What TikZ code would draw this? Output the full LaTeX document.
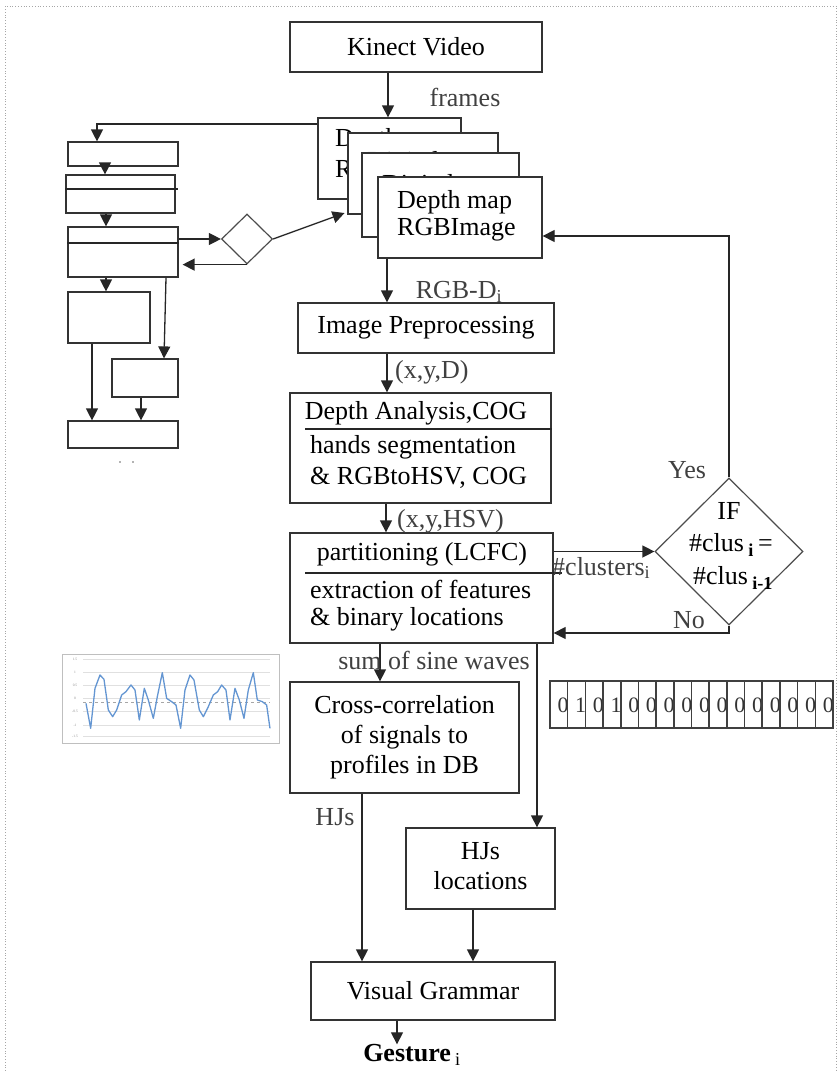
\documentclass[tikz,border=0pt]{standalone}
\usepackage{fontspec}
\setmainfont{Liberation Serif}
\usetikzlibrary{arrows.meta,shapes.geometric}

\begin{document}
\begin{tikzpicture}[x=1pt,y=-1pt,
  every node/.style={font=\fontsize{26}{29}\selectfont, inner sep=0pt},
  box/.style={draw=black!80, line width=1.3pt, fill=white, inner sep=0pt},
  arr/.style={draw=black!85, line width=1.3pt, -{Triangle[length=12pt,width=12pt]}},
  plain/.style={draw=black!85, line width=1.3pt},
  lbl/.style={text=black!75},
]
\useasboundingbox (0,0) rectangle (839,1071);
% dotted page frame
\draw[black!35, dotted, line width=0.8pt] (5,1071) -- (5,6) -- (836,6) -- (836,1071);

% ---------- main pipeline ----------
\node[box, minimum width=252pt, minimum height=50pt] (kinect) at (416,47) {Kinect Video};

% stacked frames
\node[box, minimum width=143pt, minimum height=81pt] (s1) at (389.5,158.5) {};
\node[anchor=west] (s1t) at (335,156) {\begin{tabular}{@{}l@{}}Depth map\\[2pt]RGB Image\end{tabular}};
\node[box, minimum width=150pt, minimum height=81pt] (s2) at (423,173.5) {};
\node[anchor=west] (s2t) at (367,163) {Digital};
\node[box, minimum width=157pt, minimum height=84pt] (s3) at (440.5,195) {};
\node[anchor=west] (s3t) at (382,186) {Digital};
\node[box, minimum width=164pt, minimum height=81pt] (s4) at (460,217.5) {};
\node[anchor=west] (s4t) at (397,216) {\begin{tabular}{@{}l@{}}Depth map\\[-2pt]RGBImage\end{tabular}};

\node[box, minimum width=256pt, minimum height=50pt] (ip) at (426,328) {Image Preprocessing};

\node[box, minimum width=261pt, minimum height=110pt] (da) at (420.5,448) {};
\draw[plain] (305,429) -- (da.east |- 0,429);
\node (da1) at (416,413) {Depth Analysis,COG};
\node[anchor=west] (da2) at (310,447) {hands segmentation};
\node[anchor=west] (da3) at (310,478) {\& RGBtoHSV, COG};

\node[box, minimum width=263pt, minimum height=110pt] (pl) at (421.5,588) {};
\draw[plain] (305,573) -- (562,573);
\node (pl1) at (422,554) {partitioning (LCFC)};
\node[anchor=west] (pl2) at (310,589) {extraction of features};
\node[anchor=west] (pl3) at (310,619) {\& binary locations};

\node[box, minimum width=229pt, minimum height=111pt] (cc) at (404.5,737.5)
  {\begin{tabular}{@{}c@{}}Cross-correlation\\[1pt]of signals to\\[1pt]profiles in DB\end{tabular}};
\node[box, minimum width=149pt, minimum height=81pt] (hjl) at (480.5,868.5)
  {\begin{tabular}{@{}c@{}}HJs\\[1pt]locations\end{tabular}};
\node[box, minimum width=244pt, minimum height=58pt] (vg) at (433,991) {Visual Grammar};
\node[font=\bfseries\fontsize{26}{29}\selectfont] (gest) at (412,1055) {Gesture\,{\mdseries\textsubscript{i}}};

% decision
\node[draw=black!70, line width=1.2pt, diamond, minimum width=148pt, minimum height=147pt] (bd) at (729,551.5) {};
\node (bd1) at (729,511) {IF};
\node (bd2) at (731,545) {\#clus\,\textsubscript{\textbf{i}}\,=};
\node (bd3) at (733,578) {\#clus\,\textsubscript{\textbf{i-1}}};

% ---------- left sub-diagram ----------
\node[box, line width=1.2pt, minimum width=110pt, minimum height=24pt] (L1) at (123,154) {};
\node[box, line width=1.2pt, minimum width=109pt, minimum height=38pt] (L2) at (120.5,194) {};
\draw[plain, line width=1.2pt] (L2.west |- 0,189) -- (178,189);
\node[box, line width=1.2pt, minimum width=110pt, minimum height=50pt] (L3) at (123,252) {};
\draw[plain, line width=1.2pt] (L3.west |- 0,243) -- (L3.east |- 0,243);
\node[box, line width=1.2pt, minimum width=82pt, minimum height=51pt] (L4) at (109,317.5) {};
\node[box, line width=1.2pt, minimum width=66pt, minimum height=38pt] (L5) at (145,378) {};
\node[box, line width=1.2pt, minimum width=110pt, minimum height=27pt] (L6) at (123,434.5) {};
\node[draw=black!70, line width=1.2pt, diamond, minimum width=51pt, minimum height=50pt] (sd) at (247,239) {};
\fill[black!60] (120,462) circle (0.9pt) (133,462) circle (0.9pt);

% ---------- connectors ----------
\draw[arr] (388,0 |- kinect.south) -- (388,0 |- s1.north);
\draw[arr] (s1.west |- 0,124) -- (97,124) -- (97,0 |- L1.north);
\draw[arr] (105,0 |- L1.south) -- (105,0 |- L2.north);
\draw[arr] (106,0 |- L2.south) -- (106,0 |- L3.north);
\draw[arr] (L3.east |- sd.west) -- (sd.west);
\draw[arr, shorten >=4pt] (sd.south) -- (L3.east |- sd.south);
\draw[arr, shorten >=3pt] (sd.east) -- (s2.west |- 0,212);
\draw[arr] (106,0 |- L3.south) -- (106,0 |- L4.north);
\draw[arr] (166,0 |- L3.south) -- (164,0 |- L5.north);
\draw[arr] (92,0 |- L4.south) -- (92,0 |- L6.north);
\draw[arr] (141,0 |- L5.south) -- (141,0 |- L6.north);

\draw[arr] (387,0 |- s4.south) -- (387,0 |- ip.north);
\draw[arr] (387,0 |- ip.south) -- (387,0 |- da.north);
\draw[arr] (386,0 |- da.south) -- (386,0 |- pl.north);
\draw[arr] (pl.east |- bd.west) -- (bd.west);
\draw[arr] (bd.north) -- (bd.north |- 0,236) -- (s4.east |- 0,236);
\draw[arr] (bd.south) -- (bd.south |- 0,633) -- (pl.east |- 0,633);
\draw[arr] (380,0 |- pl.south) -- (380,0 |- cc.north);
\draw[arr] (537,0 |- pl.south) -- (537,0 |- hjl.north);
\draw[arr] (362,0 |- cc.south) -- (362,0 |- vg.north);
\draw[arr] (473,0 |- hjl.south) -- (473,0 |- vg.north);
\draw[arr] (397,0 |- vg.south) -- (397,0 |- gest.north);

% ---------- labels ----------
\node[lbl] (lfr) at (465,97) {frames};
\node[lbl] (lrgbd) at (459,292) {RGB-D\textsubscript{i}};
\node[lbl, anchor=west] (lxyd) at (395,372) {(x,y,D)};
\node[lbl, anchor=west] (lxyh) at (397,521) {(x,y,HSV)};
\node[lbl, anchor=west] (lclu) at (552,568) {\#clusters\textsubscript{i}};
\node[lbl] (lyes) at (687,470) {Yes};
\node[lbl] (lno) at (689,620) {No};
\node[lbl] (lsum) at (434,660) {sum of sine waves};
\node[lbl] (lhj) at (335,817) {HJs};

% ---------- binary strip ----------
\foreach \b [count=\k from 0] in {0,1,0,1,0,0,0,0,0,0,0,0,0,0,0,0}
  \node[font=\fontsize{22}{22}\selectfont, text=black!80] (bit\k) at ({550+\k*17.69+13},705) {\b};
\draw[black!75, line width=1.6pt] (550,681) rectangle (833,728);
\foreach \k in {1,...,15}
  \draw[black!75, line width=1.6pt] ({550+\k*17.69},681) -- ({550+\k*17.69},728);

% ---------- signal chart ----------
\begin{scope}[shift={(50,640)}, scale=0.3333]
  \draw[black!25, line width=1pt, fill=white] (38,42) rectangle (688,312);
  \foreach \yy in {58,98,135,175,215,255,290}
    \draw[black!12, line width=0.8pt] (100,\yy) -- (660,\yy);
  \draw[black!35, dashed, line width=1pt] (100,188) -- (660,188);
  \foreach \yy/\t in {58/1.5,98/1,135/0.5,175/0,215/-0.5,255/-1,290/-1.5}
    \node[font=\fontsize{3.5}{4}\selectfont, text=black!45] (yl\yy) at (75,\yy) {\t};
  \draw[color={rgb,255:red,100;green,150;blue,210}, line width=1.3pt, line join=round]
    (108,190) -- (122,265) -- (135,145) -- (150,105) -- (162,118) -- (175,210) -- (188,230)
    -- (200,210) -- (215,165) -- (228,155) -- (243,135) -- (255,150) -- (268,240) -- (283,145)
    -- (295,180) -- (310,235) -- (322,170) -- (337,98) -- (350,175) -- (365,185) -- (378,195)
    -- (392,265) -- (405,150) -- (420,105) -- (432,120) -- (448,210) -- (460,230) -- (475,200)
    -- (490,165) -- (503,155) -- (515,135) -- (528,150) -- (540,240) -- (555,145) -- (568,180)
    -- (582,235) -- (595,150) -- (610,98) -- (622,180) -- (637,185) -- (650,195) -- (660,265);
\end{scope}
\end{tikzpicture}
\end{document}
